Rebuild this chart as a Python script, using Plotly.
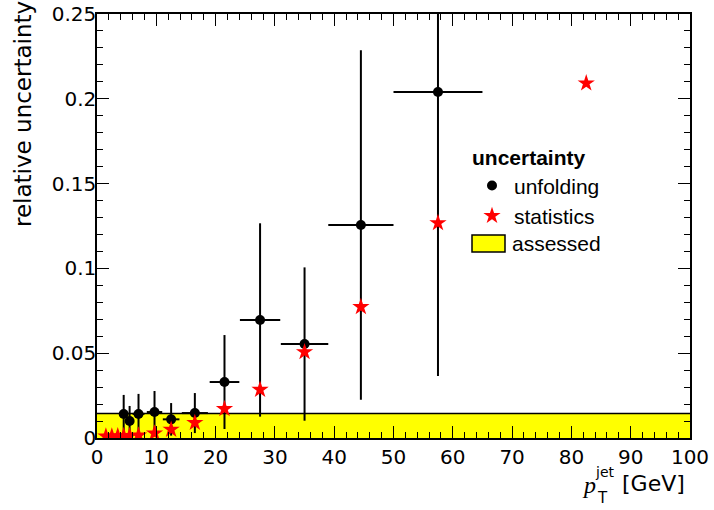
import plotly.graph_objects as go

# unfolding uncertainty per jet-pT bin (bin centre, half bin width, value, error)
unf_pt = [4.5, 5.5, 7.0, 9.7, 12.5, 16.5, 21.5, 27.5, 35.0, 44.5, 57.5]
unf_halfwidth = [0.5, 0.5, 1.0, 1.3, 1.4, 2.2, 2.5, 3.4, 4.0, 5.5, 7.5]
unf_val = [0.0142, 0.0100, 0.0142, 0.0153, 0.0110, 0.0147, 0.0330, 0.0696, 0.0554, 0.1256, 0.2040]
unf_err = [0.0112, 0.0089, 0.0118, 0.0124, 0.0096, 0.0118, 0.0277, 0.0570, 0.0452, 0.1030, 0.1674]

# statistical uncertainty per bin
stat_pt = [1.5, 2.5, 3.5, 4.5, 5.5, 7.0, 9.7, 12.5, 16.5, 21.5, 27.5, 35.0, 44.5, 57.5, 82.5]
stat_val = [0.0010, 0.0010, 0.0011, 0.0012, 0.0013, 0.0016, 0.0028, 0.0050, 0.0090,
            0.0172, 0.0285, 0.0507, 0.0773, 0.1268, 0.2092]

# flat assessed uncertainty over the whole pT range
assessed_level = 0.0145
pt_range = [0, 100]

x_ticks = [0, 10, 20, 30, 40, 50, 60, 70, 80, 90, 100]
y_ticks = [0, 0.05, 0.1, 0.15, 0.2, 0.25]

AX_FONT = dict(family="DejaVu Sans", size=20, color="black")
LEG_FONT = dict(family="Liberation Sans", size=21, color="black")

# plot-area geometry in pixels, used to place the hand-drawn legend entry
PL, PR, PT, PB = 97, 690, 14, 438


def px_x(px):
    return (px - PL) / (PR - PL)


def px_y(py):
    return (PB - py) / (PB - PT)


fig = go.Figure()

# assessed band
fig.add_trace(go.Scatter(
    x=pt_range, y=[assessed_level, assessed_level],
    mode="lines", fill="tozeroy", fillcolor="#ffff00",
    line=dict(color="black", width=1.5),
    showlegend=False, hoverinfo="skip",
))

fig.add_trace(go.Scatter(
    x=unf_pt, y=unf_val, mode="markers", name="unfolding",
    marker=dict(symbol="circle", size=10, color="black"),
    error_y=dict(type="data", array=unf_err, visible=True, color="black", thickness=2, width=0),
    error_x=dict(type="data", array=unf_halfwidth, visible=True, color="black", thickness=2, width=0),
    legendrank=1,
))

fig.add_trace(go.Scatter(
    x=stat_pt, y=stat_val, mode="markers", name="statistics",
    marker=dict(symbol="star", size=13, color="#ff0000", line=dict(width=0)),
    legendrank=2,
))

axis_common = dict(
    ticks="inside", ticklen=12, tickwidth=1, tickcolor="black",
    showline=True, linecolor="black", linewidth=1.5, mirror="allticks",
    showgrid=False, zeroline=False, tickfont=AX_FONT, automargin=False,
)

fig.update_xaxes(range=pt_range, tickvals=x_ticks,
                 minor=dict(dtick=2, tick0=0, ticks="inside", ticklen=6, tickcolor="black", tickwidth=1),
                 **axis_common)
fig.update_yaxes(range=[0, 0.25], tickvals=y_ticks, ticktext=["0", "0.05", "0.1", "0.15", "0.2", "0.25"],
                 minor=dict(dtick=0.01, tick0=0, ticks="inside", ticklen=6, tickcolor="black", tickwidth=1),
                 ticklabelstandoff=-5,
                 **axis_common)

annotations = [
    # y-axis title, aligned with the top of the axis
    dict(text="relative uncertainty", textangle=-90, xref="paper", yref="paper",
         x=px_x(23), y=px_y(-1), xanchor="center", yanchor="top", showarrow=False,
         font=dict(family="DejaVu Sans", size=23, color="black")),
    # x-axis title, aligned with the right end of the axis
    dict(text="[GeV]", xref="paper", yref="paper", x=px_x(687), y=px_y(484),
         xanchor="right", yanchor="middle", showarrow=False,
         font=dict(family="DejaVu Sans", size=22, color="black")),
    dict(text="<i>p</i>", xref="paper", yref="paper", x=px_x(589), y=px_y(485),
         xanchor="center", yanchor="middle", showarrow=False,
         font=dict(family="Liberation Serif", size=24, color="black")),
    dict(text="jet", xref="paper", yref="paper", x=px_x(605), y=px_y(472),
         xanchor="center", yanchor="middle", showarrow=False,
         font=dict(family="DejaVu Sans", size=14, color="black")),
    dict(text="T", xref="paper", yref="paper", x=px_x(602), y=px_y(498),
         xanchor="center", yanchor="middle", showarrow=False,
         font=dict(family="DejaVu Sans", size=15, color="black")),
    # third legend entry
    dict(text="assessed", xref="paper", yref="paper", x=px_x(510), y=px_y(243),
         xanchor="left", yanchor="middle", showarrow=False, font=LEG_FONT),
]

shapes = [
    dict(type="rect", xref="paper", yref="paper",
         x0=px_x(472), x1=px_x(505), y0=px_y(252), y1=px_y(235),
         fillcolor="#ffff00", line=dict(color="black", width=1.5)),
]

fig.update_layout(
    width=714, height=510,
    margin=dict(l=PL, r=714 - PR, t=PT, b=510 - PB),
    paper_bgcolor="white", plot_bgcolor="white",
    showlegend=True,
    legend=dict(
        title=dict(text="<b>uncertainty</b>", font=LEG_FONT),
        font=LEG_FONT, x=px_x(470), y=px_y(138), xanchor="left", yanchor="top",
        bgcolor="rgba(0,0,0,0)", borderwidth=0, itemwidth=34, tracegroupgap=0,
    ),
    annotations=annotations,
    shapes=shapes,
)

fig.write_html("out.html")
